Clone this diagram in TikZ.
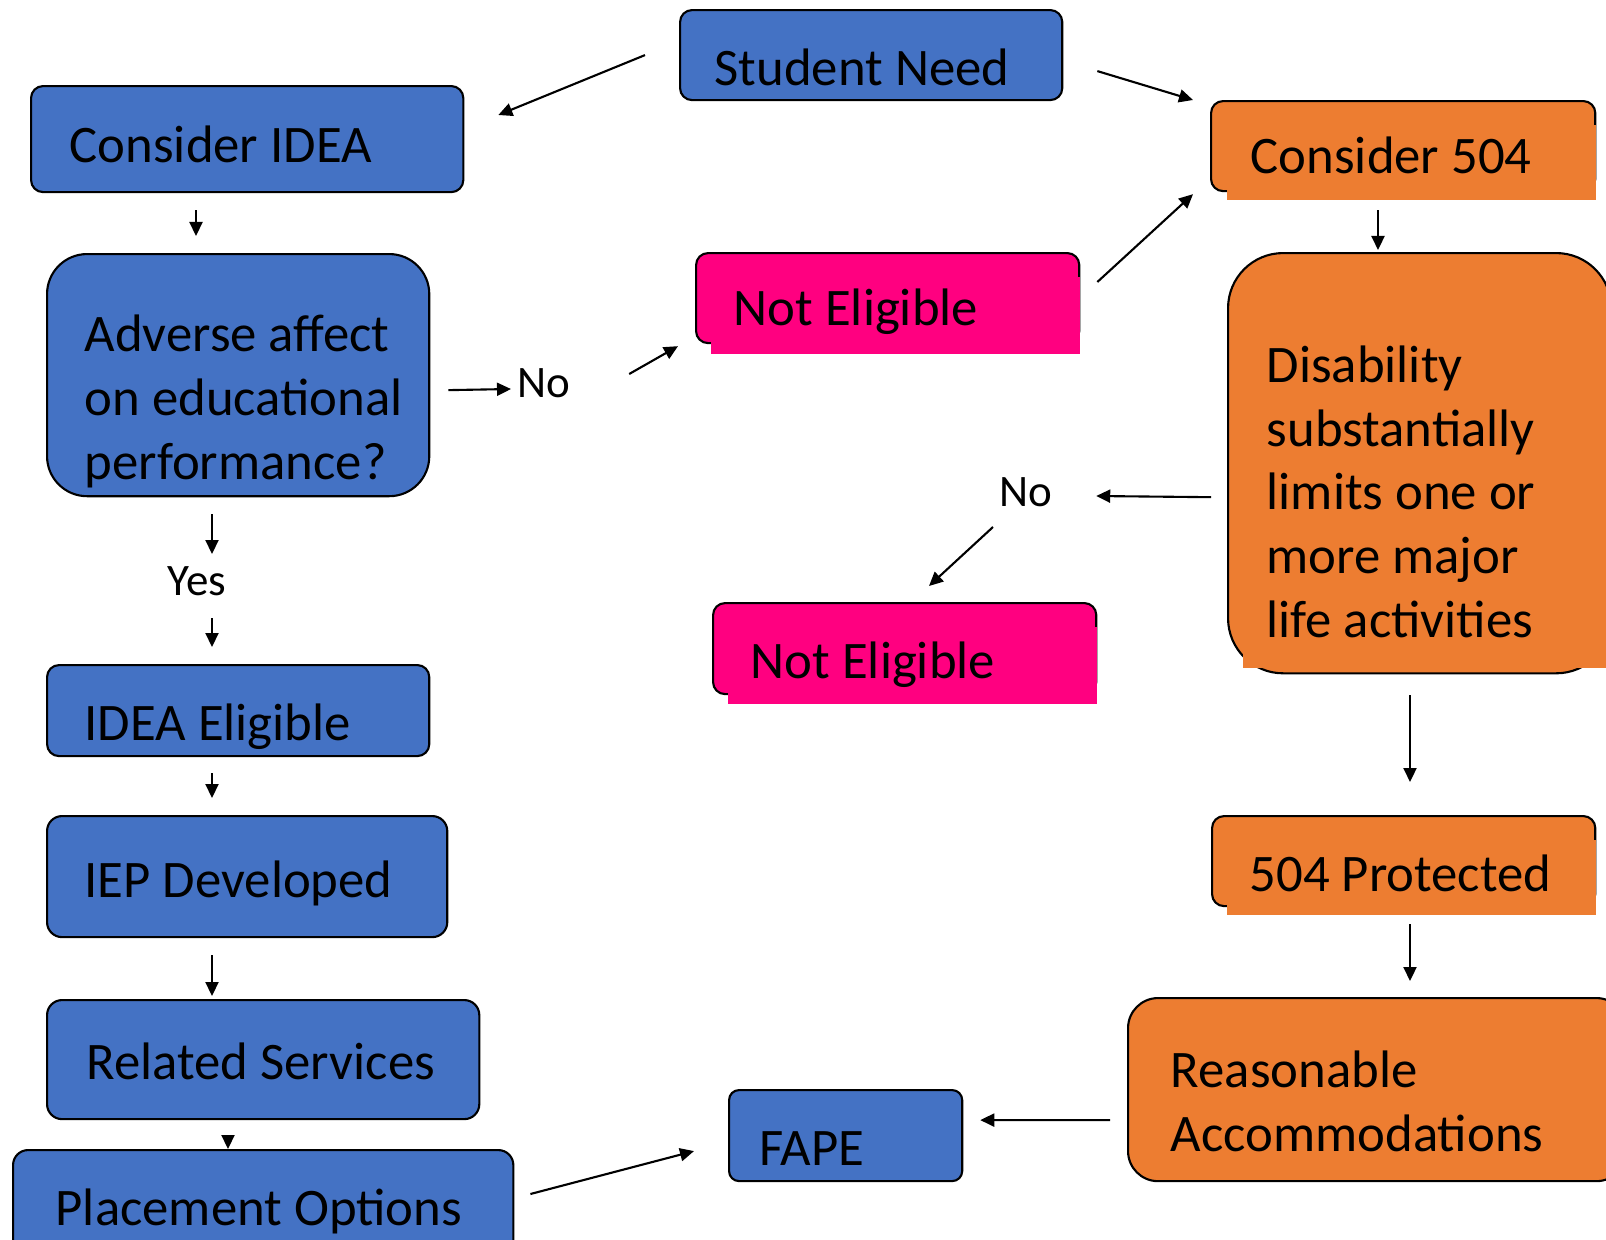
\documentclass[tikz,border=0pt]{standalone}
\usepackage{fontspec}
\setmainfont{Carlito}
\usetikzlibrary{arrows.meta,calc,positioning}

\definecolor{ideablue}{HTML}{4472C4}
\definecolor{sectorange}{HTML}{ED7D31}
\definecolor{nopink}{HTML}{FF0080}

\begin{document}
\begin{tikzpicture}
[x=0.01cm,y=-0.01cm,
box/.style={draw=black,line width=0.6pt,rounded corners=0.12cm,anchor=north west,inner sep=0pt},
bluebox/.style={box,fill=ideablue},
orangebox/.style={box,fill=sectorange},
pinkbox/.style={box,fill=nopink},
txt/.style={anchor=base west,inner sep=0pt,align=left,font=\fontsize{15}{18.1}\selectfont},
small/.style={anchor=base west,inner sep=0pt,font=\fontsize{12.8}{15}\selectfont},
arr/.style={-{Triangle[length=0.14cm,width=0.13cm]},line width=0.6pt}]

\useasboundingbox (0,0) rectangle (1606,1239);

% boxes, left column
\node (need) [bluebox,minimum width=3.82cm,minimum height=0.9cm] at (679,9) {};
\node (idea) [bluebox,minimum width=4.32cm,minimum height=1.06cm] at (30,85) {};
\node (adverse) [bluebox,rounded corners=0.4cm,minimum width=3.82cm,minimum height=2.42cm] at (46,253) {};
\node (elig) [bluebox,minimum width=3.82cm,minimum height=0.91cm] at (46,664) {};
\node (iep) [bluebox,rounded corners=0.15cm,minimum width=4cm,minimum height=1.21cm] at (46,815) {};
\node (related) [bluebox,rounded corners=0.15cm,minimum width=4.32cm,minimum height=1.19cm] at (46,999) {};
\node (place) [bluebox,rounded corners=0.15cm,minimum width=5cm,minimum height=1.16cm] at (12,1149) {};
\node (fape) [bluebox,rounded corners=0.1cm,minimum width=2.33cm,minimum height=0.91cm] at (728,1089) {};

% boxes, middle and right
\node (noteA) [pinkbox,minimum width=3.83cm,minimum height=0.9cm] at (695,252) {};
\fill[nopink] ($(noteA.north west)+(16,25)$) rectangle ($(noteA.south east)+(-0.5,10)$);
\node (noteB) [pinkbox,minimum width=3.83cm,minimum height=0.91cm] at (712,602) {};
\fill[nopink] ($(noteB.north west)+(16,25)$) rectangle ($(noteB.south east)+(-0.5,9)$);
\node (c504) [orangebox,minimum width=3.84cm,minimum height=0.9cm] at (1210,100) {};
\fill[sectorange] ($(c504.north west)+(17,25)$) rectangle ($(c504.south east)+(-0.5,8)$);
\node (disab) [orangebox,rounded corners=0.55cm,minimum width=3.83cm,minimum height=4.2cm] at (1227,252) {};
\fill[sectorange] ($(disab.north west)+(16,70)$) rectangle ($(disab.south east)+(0,-6)$);
\node (prot) [orangebox,minimum width=3.83cm,minimum height=0.9cm] at (1211,815) {};
\fill[sectorange] ($(prot.north west)+(16,25)$) rectangle ($(prot.south east)+(-0.5,8)$);
\node (accom) [orangebox,rounded corners=0.3cm,minimum width=4.98cm,minimum height=1.83cm] at (1127,997) {};

% texts
\node (needtxt) [txt] at (714,85) {Student Need};
\node (ideatxt) [txt] at (69,162) {Consider IDEA};
\node (adversetxt) [txt] at (84,479) {Adverse affect\\on educational\\performance?};
\node (eligtxt) [txt] at (84,740) {IDEA Eligible};
\node (ieptxt) [txt] at (84,897) {IEP Developed};
\node (relatedtxt) [txt] at (86,1079) {Related Services};
\node (placetxt) [txt] at (55,1225) {Placement Options};
\node (fapetxt) [txt] at (759,1165) {FAPE};
\node (noteAtxt) [txt] at (733,325) {Not Eligible};
\node (noteBtxt) [txt] at (750,678) {Not Eligible};
\node (c504txt) [txt] at (1250,173) {Consider 504};
\node (disabtxt) [txt] at (1266,637) {Disability\\substantially\\limits one or\\more major\\life activities};
\node (prottxt) [txt] at (1249,891) {504 Protected};
\node (accomtxt) [txt] at (1170,1151) {Reasonable\\Accommodations};

\node (noA) [small] at (517,397) {No};
\node (noB) [small] at (999,506) {No};
\node (yes) [small] at (167,595) {Yes};

% arrows
\draw[arr] ($(need.west)+(-34,0)$) -- ($(idea.north east)+(34,30)$);
\draw[arr] ($(need.east)+(34,16)$) -- ($(c504.north west)+(-17,0)$);
\draw[arr] ($(idea.south west)+(166,17)$) -- ($(adverse.north west)+(150,-17)$);
\draw[arr] ($(adverse.east)+(18,15)$) -- ($(noA.base west)+(-6,-8)$);
\draw[arr] ($(noA.base east)+(58,-23)$) -- ($(noteA.south west)+(-17,2)$);
\draw[arr] ($(noteA.north east)+(17,30)$) -- ($(c504.south west)+(-17,2)$);
\draw[arr] ($(c504.south west)+(168,18)$) -- ($(disab.north west)+(151,-2)$);
\draw[arr] ($(disab.west)+(-16,34)$) -- ($(noB.base east)+(43,-10)$);
\draw[arr] ($(noB.base west)+(-6,21)$) -- ($(noteB.north west)+(217,-16)$);
\draw[arr] ($(adverse.south west)+(166,17)$) -- ($(yes.base west)+(45,-41)$);
\draw[arr] ($(yes.base west)+(45,23)$) -- ($(elig.north west)+(166,-17)$);
\draw[arr] ($(elig.south west)+(166,16)$) -- ($(iep.north west)+(166,-17)$);
\draw[arr] ($(iep.south west)+(166,17)$) -- ($(related.north west)+(166,-3)$);
\draw[arr] ($(related.south west)+(182,17)$) -- ($(place.north west)+(216,0)$);
\draw[arr] ($(place.north east)+(16,45)$) -- ($(fape.west)+(-34,15.5)$);
\draw[arr] ($(disab.south west)+(183,21)$) -- ($(prot.north west)+(199,-33)$);
\draw[arr] ($(prot.south west)+(199,17)$) -- ($(accom.north west)+(283,-16)$);
\draw[arr] ($(accom.west)+(-17,30.5)$) -- ($(fape.east)+(17,-15.5)$);

\end{tikzpicture}
\end{document}
